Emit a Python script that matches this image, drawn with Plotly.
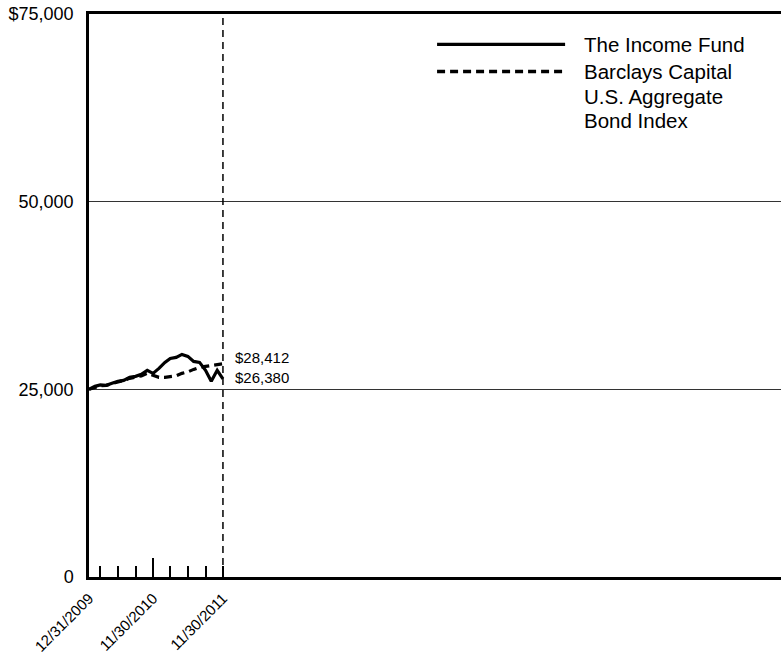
import pandas as pd
import plotly.graph_objects as go

# Month-end valuation dates for the two series
dates = pd.date_range("2009-12-31", periods=24, freq=pd.offsets.MonthEnd())

# Growth of a $25,000 investment
fund_values = [25000, 25399, 25598, 25532, 25798, 26064, 26197, 26596, 26729, 26995,
               27527, 27128, 27793, 28590, 29122, 29255, 29654, 29388, 28723, 28590,
               27527, 26064, 27527, 26380]
index_values = [25000, 25266, 25465, 25532, 25731, 25931, 26197, 26463, 26596, 26795,
                27128, 26862, 26596, 26596, 26662, 26795, 27128, 27327, 27660, 27926,
                28059, 28191, 28324, 28412]

fund_name = "The Income Fund"
index_name_lines = ["Barclays Capital", "U.S. Aggregate", "Bond Index"]

# Axis ticks
y_tickvals = [0, 25000, 50000, 75000]
y_ticktext = ["0", "25,000", "50,000", "$75,000"]
x_tickvals = ["2009-12-31", "2010-02-28", "2010-05-31", "2010-08-31", "2010-11-30",
              "2011-02-28", "2011-05-31", "2011-08-31", "2011-11-30"]
x_ticktext = ["12/31/2009", "", "", "", "11/30/2010", "", "", "", "11/30/2011"]
x_major_ticks = ["2010-11-30"]
x_range = ["2009-12-31", "2019-11-20"]
period_end = "2011-11-30"

FONT = "Liberation Sans, Arial, Helvetica, sans-serif"

fig = go.Figure()
fig.add_trace(go.Scatter(x=dates, y=index_values, mode="lines", name=" ".join(index_name_lines),
                         line=dict(color="black", width=3.2, dash="8px,5px")))
fig.add_trace(go.Scatter(x=dates, y=fund_values, mode="lines", name=fund_name,
                         line=dict(color="black", width=3.2)))
# Empty trace so the overlaid axis carrying the taller year tick is rendered
fig.add_trace(go.Scatter(x=[], y=[], xaxis="x2", yaxis="y", mode="lines",
                         hoverinfo="skip", showlegend=False))

# Period-end marker line
fig.add_shape(type="line", xref="x", yref="paper", x0=period_end, x1=period_end, y0=0, y1=1,
              line=dict(color="black", width=1.5, dash="7px,5px"))

# Ending values
fig.add_annotation(x=dates[-1], y=index_values[-1], text=f"${index_values[-1]:,}",
                   xanchor="left", yanchor="middle", xshift=10, yshift=6, showarrow=False,
                   font=dict(family=FONT, size=15, color="black"))
fig.add_annotation(x=dates[-1], y=fund_values[-1], text=f"${fund_values[-1]:,}",
                   xanchor="left", yanchor="middle", xshift=10, yshift=1, showarrow=False,
                   font=dict(family=FONT, size=15, color="black"))

# Key
fig.add_shape(type="line", xref="paper", yref="paper", x0=0.503, x1=0.688, y0=0.946, y1=0.946,
              line=dict(color="black", width=3.2))
fig.add_shape(type="line", xref="paper", yref="paper", x0=0.503, x1=0.688, y0=0.898, y1=0.898,
              line=dict(color="black", width=3.5, dash="8px,5px"))
fig.add_annotation(xref="paper", yref="paper", x=0.7125, y=0.946, text=fund_name,
                   xanchor="left", yanchor="middle", showarrow=False, align="left",
                   font=dict(family=FONT, size=20.5, color="black"))
for i, line_text in enumerate(index_name_lines):
    fig.add_annotation(xref="paper", yref="paper", x=0.7125, y=0.898 - i * 0.0437, text=line_text,
                       xanchor="left", yanchor="middle", showarrow=False, align="left",
                       font=dict(family=FONT, size=20.5, color="black"))

fig.update_layout(
    width=781, height=655,
    margin=dict(l=89, r=0, t=14, b=78),
    paper_bgcolor="white", plot_bgcolor="white",
    showlegend=False,
    font=dict(family=FONT, color="black"),
    xaxis=dict(
        type="date", range=x_range, showgrid=False, zeroline=False,
        showline=True, linecolor="black", linewidth=2.5, mirror=True,
        ticks="inside", ticklen=11, tickwidth=1.5, tickcolor="black",
        tickmode="array", tickvals=x_tickvals, ticktext=x_ticktext,
        tickangle=-45, tickfont=dict(family=FONT, size=15), ticklabelstandoff=4,
    ),
    xaxis2=dict(
        type="date", range=x_range, overlaying="x", anchor="y", side="bottom",
        showgrid=False, zeroline=False, showline=False,
        ticks="inside", ticklen=19, tickwidth=1.5, tickcolor="black",
        tickmode="array", tickvals=x_major_ticks, showticklabels=False,
    ),
    yaxis=dict(
        range=[0, 75000], showgrid=True, gridcolor="#333333", gridwidth=1, zeroline=False,
        showline=True, linecolor="black", linewidth=2.5,
        ticks="", tickmode="array", tickvals=y_tickvals, ticktext=y_ticktext,
        tickfont=dict(family=FONT, size=18), ticklabelstandoff=9,
    ),
)

fig.write_html("out.html", config={"displayModeBar": False})
